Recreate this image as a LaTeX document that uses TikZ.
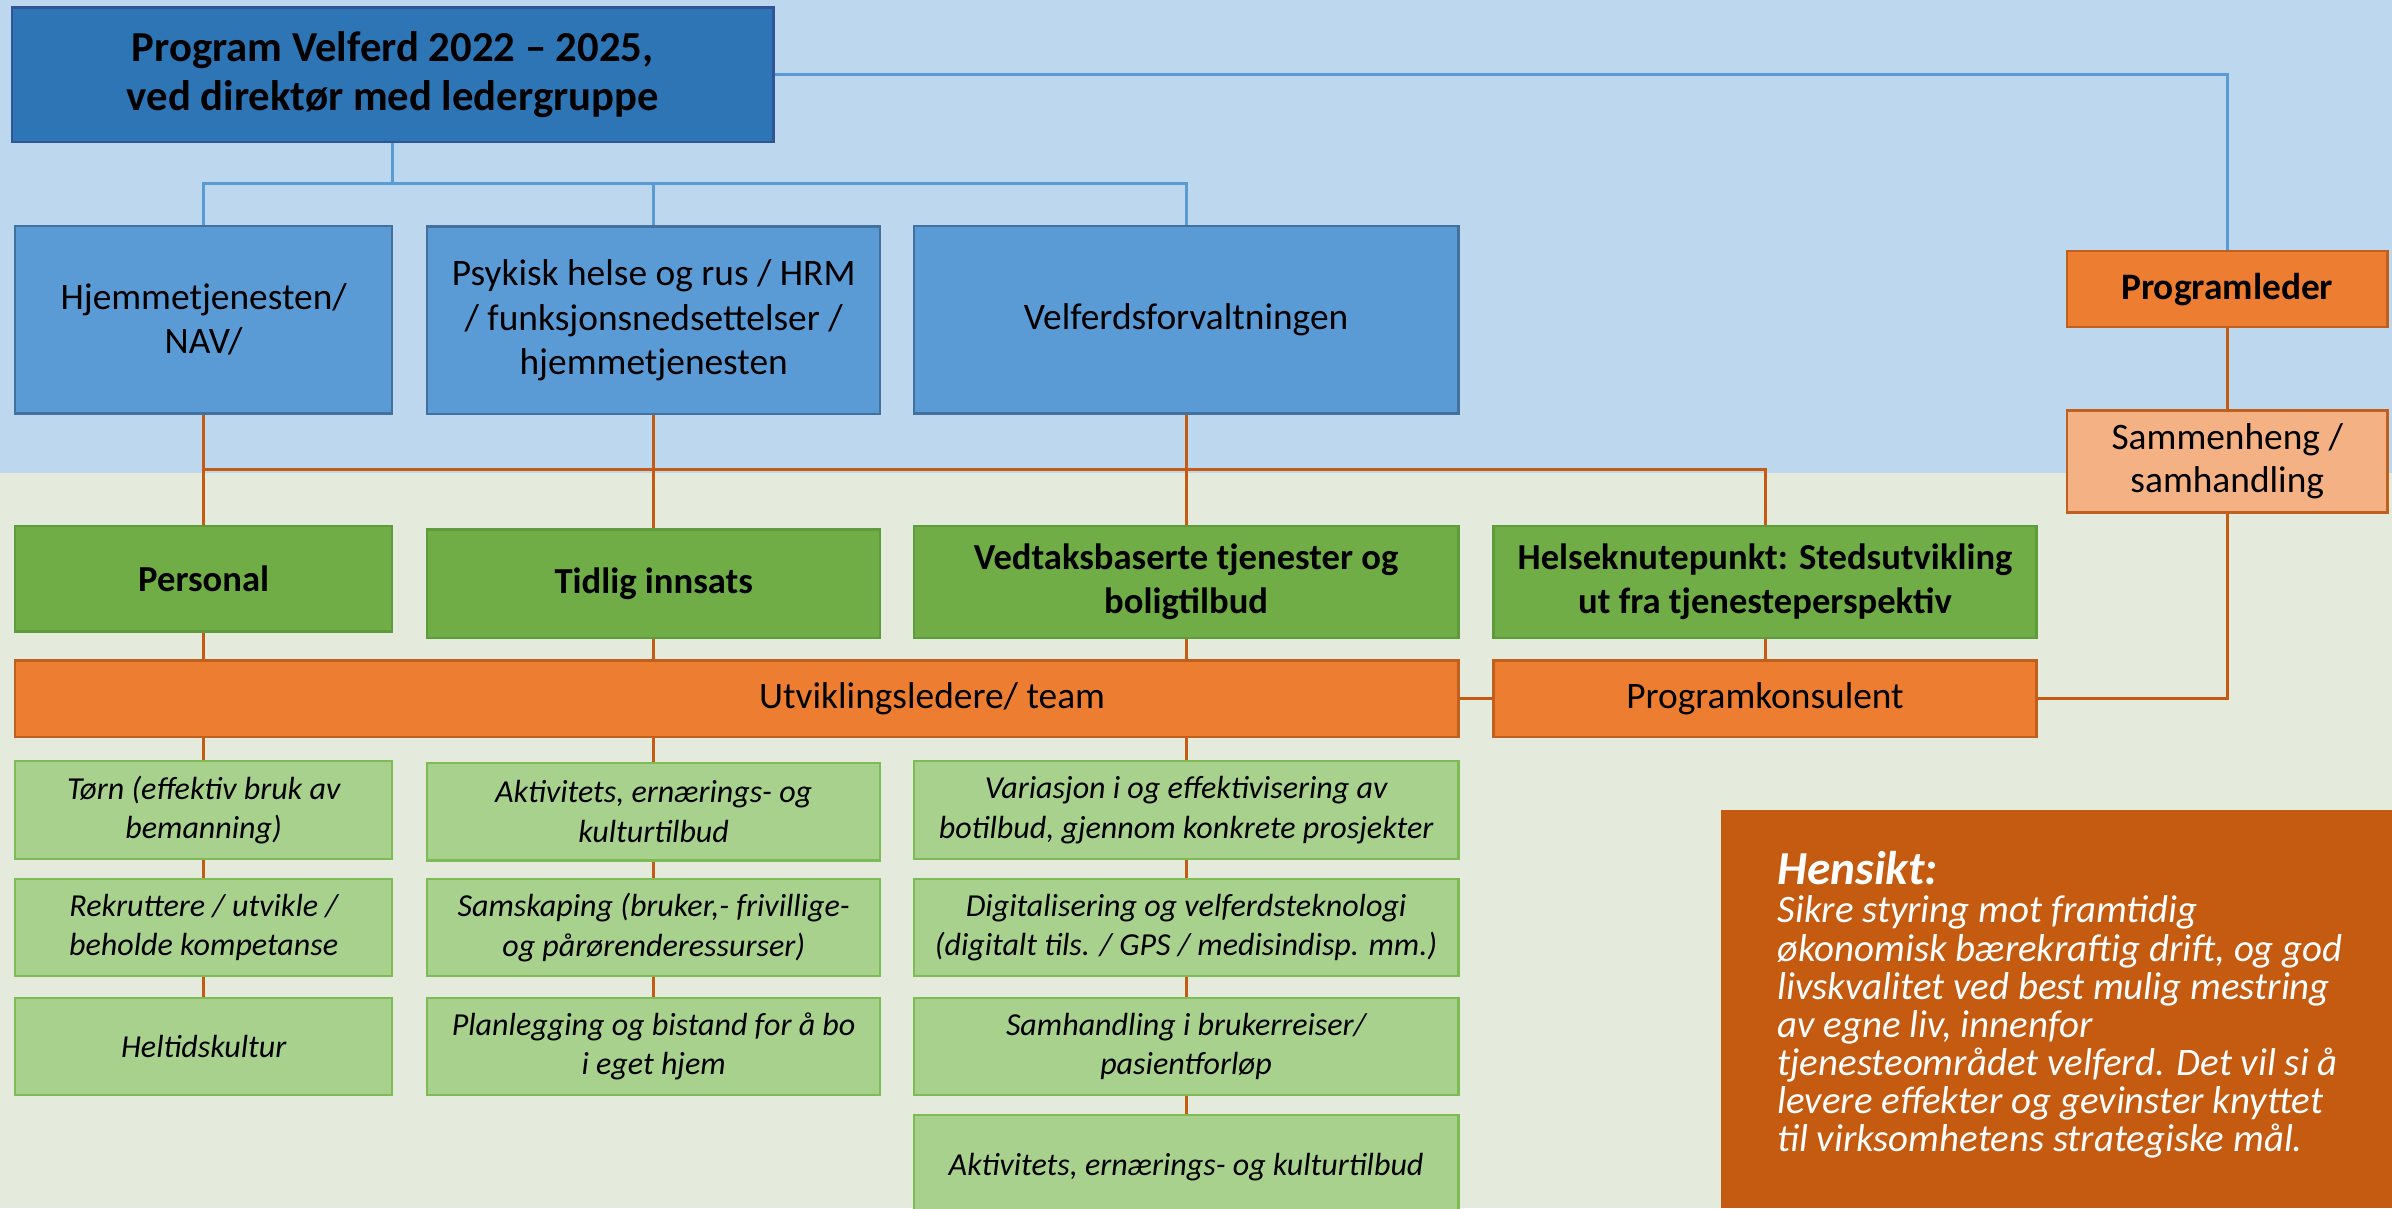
\documentclass[tikz,border=0pt]{standalone}
\usepackage{fontspec}
\setmainfont{Carlito}
\definecolor{skyback}{HTML}{BDD7EE}
\definecolor{leafback}{HTML}{E4EADC}
\definecolor{titlefill}{HTML}{2E75B6}
\definecolor{titledraw}{HTML}{2F5597}
\definecolor{unitfill}{HTML}{5B9BD5}
\definecolor{unitdraw}{HTML}{41719C}
\definecolor{areafill}{HTML}{70AD47}
\definecolor{areadraw}{HTML}{5E9B3A}
\definecolor{taskfill}{HTML}{A9D18E}
\definecolor{taskdraw}{HTML}{7DBB55}
\definecolor{teamfill}{HTML}{ED7D31}
\definecolor{teamdraw}{HTML}{C0601F}
\definecolor{linkfill}{HTML}{F4B183}
\definecolor{rust}{HTML}{C55A11}
\tikzset{
  box/.style={draw, line width=1.5pt, align=center, inner sep=0pt, font=\fontsize{24.5}{29}\selectfont},
  titlebox/.style={box, fill=titlefill, draw=titledraw, minimum width=499pt, minimum height=88pt, font=\fontsize{28}{32}\selectfont\bfseries},
  unitbox/.style={box, fill=unitfill, draw=unitdraw, minimum height=123pt},
  areabox/.style={box, fill=areafill, draw=areadraw, font=\fontsize{24}{29}\selectfont\bfseries},
  taskbox/.style={box, fill=taskfill, draw=taskdraw, minimum height=64pt, font=\fontsize{21}{26}\selectfont\itshape},
  teambox/.style={box, fill=teamfill, draw=teamdraw, minimum height=50pt},
  linkbox/.style={box, fill=linkfill, draw=teamdraw, minimum width=210pt, minimum height=67pt, font=\fontsize{24.5}{28}\selectfont},
  blueline/.style={draw=unitfill, line width=2pt},
  rustline/.style={draw=rust, line width=2pt}
}
\begin{document}
\begin{tikzpicture}[x=1pt,y=-1pt]
\useasboundingbox (0,0) rectangle (1568,792);
\clip (0,0) rectangle (1568,792);
\fill[skyback] (0,0) rectangle (1568,310);
\fill[leafback] (0,310) rectangle (1568,792);
\coordinate (bbar) at (0,120);
\coordinate (obar) at (0,308);

\node[titlebox] (title) at (257.5,49) {Program Velferd 2022 -- 2025,\\ved direktør med ledergruppe};
\node[unitbox, minimum width=247pt] (hjem) at (133.5,209.5) {Hjemmetjenesten/\\NAV/};
\node[unitbox, minimum width=297pt] (psyk) at (428.5,210) {Psykisk helse og rus / HRM\\/ funksjonsnedsettelser /\\hjemmetjenesten};
\node[unitbox, minimum width=357pt] (velf) at (777.5,209.5) {Velferdsforvaltningen};

\node[teambox, minimum width=210pt, font=\fontsize{24.5}{29}\selectfont\bfseries] (progl) at (1460,189.5) {Programleder};
\node[linkbox] (samm) at (1460,302.5) {Sammenheng /\\samhandling};

\node[areabox, minimum width=247pt, minimum height=69pt] (pers) at (133.5,379.5) {Personal};
\node[areabox, minimum width=297pt, minimum height=71pt] (tidl) at (428.5,382.5) {Tidlig innsats};
\node[areabox, minimum width=357pt, minimum height=73pt] (vedt) at (777.5,381.5) {Vedtaksbaserte tjenester og\\boligtilbud};
\node[areabox, minimum width=356pt, minimum height=73pt] (helse) at (1157,381.5) {Helseknutepunkt: Stedsutvikling\\ut fra tjenesteperspektiv};

\node[teambox, minimum width=946pt] (utv) at (483,458) {\hspace*{256pt}Utviklingsledere/ team};
\node[teambox, minimum width=356pt] (progk) at (1157,458) {Programkonsulent};

\node[taskbox, minimum width=247pt] (a1) at (133.5,531) {Tørn (effektiv bruk av\\bemanning)};
\node[taskbox, minimum width=247pt] (a2) at (133.5,608) {Rekruttere / utvikle /\\beholde kompetanse};
\node[taskbox, minimum width=247pt] (a3) at (133.5,686) {Heltidskultur};
\node[taskbox, minimum width=297pt] (b1) at (428.5,532) {Aktivitets, ernærings- og\\kulturtilbud};
\node[taskbox, minimum width=297pt] (b2) at (428.5,608) {Samskaping (bruker,- frivillige-\\og pårørenderessurser)};
\node[taskbox, minimum width=297pt] (b3) at (428.5,686) {Planlegging og bistand for å bo\\i eget hjem};
\node[taskbox, minimum width=357pt] (c1) at (777.5,531) {Variasjon i og effektivisering av\\botilbud, gjennom konkrete prosjekter};
\node[taskbox, minimum width=357pt] (c2) at (777.5,608) {Digitalisering og velferdsteknologi\\(digitalt tils. / GPS / medisindisp. mm.)};
\node[taskbox, minimum width=357pt] (c3) at (777.5,686) {Samhandling i brukerreiser/\\pasientforløp};
\node[taskbox, minimum width=357pt, minimum height=68pt] (c4) at (777.5,765) {Aktivitets, ernærings- og kulturtilbud};

\node[fill=rust, minimum width=440pt, minimum height=261pt, inner sep=0pt] (aim) at (1348,661.5) {};
\node[anchor=north west, align=left, text=white, inner sep=0pt, font=\fontsize{25.5}{25}\selectfont\itshape] (aimtext) at (1165,558)
  {{\fontsize{31}{30}\selectfont\bfseries Hensikt:}\\Sikre styring mot framtidig\\økonomisk bærekraftig drift, og god\\livskvalitet ved best mulig mestring\\av egne liv, innenfor\\tjenesteområdet velferd. Det vil si å\\levere effekter og gevinster knyttet\\til virksomhetens strategiske mål.};

\draw[blueline] (title.south) -- (title.south |- bbar);
\draw[blueline] (hjem.north) -- (hjem.north |- bbar) -| (velf.north);
\draw[blueline] (psyk.north) -- (psyk.north |- bbar);
\draw[blueline] (title.east) -| (progl.north);

\draw[rustline] (hjem.south) -- (pers.north);
\draw[rustline] (psyk.south) -- (tidl.north);
\draw[rustline] (velf.south) -- (vedt.north);
\draw[rustline] (hjem.south |- obar) -| (helse.north);
\foreach \a in {pers,tidl,vedt}
  \draw[rustline] (\a.south) -- (\a.south |- utv.north);
\draw[rustline] (helse.south) -- (progk.north);
\draw[rustline] (utv.east) -- (progk.west);
\draw[rustline] (progl.south) -- (samm.north);
\draw[rustline] (samm.south) |- (progk.east);
\draw[rustline] (utv.south -| a1.north) -- (a1.north);
\draw[rustline] (utv.south -| b1.north) -- (b1.north);
\draw[rustline] (utv.south -| c1.north) -- (c1.north);
\foreach \u/\v in {a1/a2,a2/a3,b1/b2,b2/b3,c1/c2,c2/c3,c3/c4}
  \draw[rustline] (\u.south) -- (\v.north);
\end{tikzpicture}
\end{document}
